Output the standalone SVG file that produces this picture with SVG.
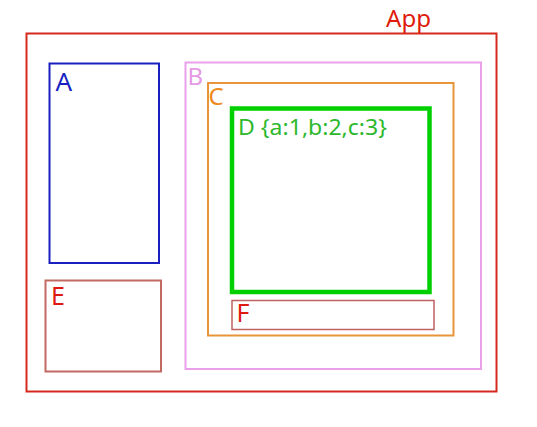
<svg xmlns="http://www.w3.org/2000/svg" width="537" height="427" viewBox="0 0 537 427">
<style>
rect.n{fill:none}
text{font-family:"Noto Sans","Liberation Sans",sans-serif}
</style>
<rect x="0" y="0" width="537" height="427" fill="#ffffff"/>
<g id="App">
<rect class="n" x="26.5" y="33.5" width="470" height="358" stroke="#d42a1e" stroke-width="2"/>
<text x="386" y="27" font-size="23" fill="#e01a0a" textLength="45" lengthAdjust="spacingAndGlyphs">App</text>
</g>
<g id="A">
<rect class="n" x="49.5" y="63.5" width="109.5" height="199.5" stroke="#1a1fbf" stroke-width="2"/>
<text x="55.5" y="90.5" font-size="26" fill="#1a1fbf">A</text>
</g>
<g id="E">
<rect class="n" x="45.5" y="280.5" width="115.5" height="91" stroke="#c26a62" stroke-width="2"/>
<text x="51" y="304.5" font-size="25" fill="#dd1a10">E</text>
</g>
<g id="B">
<rect class="n" x="185.5" y="62.5" width="295.5" height="306.5" stroke="#eaa0ea" stroke-width="2"/>
<text x="187.5" y="85" font-size="24" fill="#e59ae5">B</text>
</g>
<g id="C">
<rect class="n" x="208" y="83" width="245.5" height="252.5" stroke="#e8953a" stroke-width="2"/>
<text x="208.5" y="105" font-size="24" fill="#ee8a20">C</text>
</g>
<g id="D">
<rect class="n" x="232" y="108.5" width="197.5" height="183.5" stroke="#00d000" stroke-width="4.5"/>
<text x="238" y="135" font-size="21" fill="#2db82d" textLength="149" lengthAdjust="spacingAndGlyphs">D {a:1,b:2,c:3}</text>
</g>
<g id="F">
<rect class="n" x="232" y="300.5" width="202" height="29" stroke="#c06060" stroke-width="1.5"/>
<text x="236.5" y="322" font-size="25" fill="#e01a10">F</text>
</g>
<g id="connectors"/>
</svg>
